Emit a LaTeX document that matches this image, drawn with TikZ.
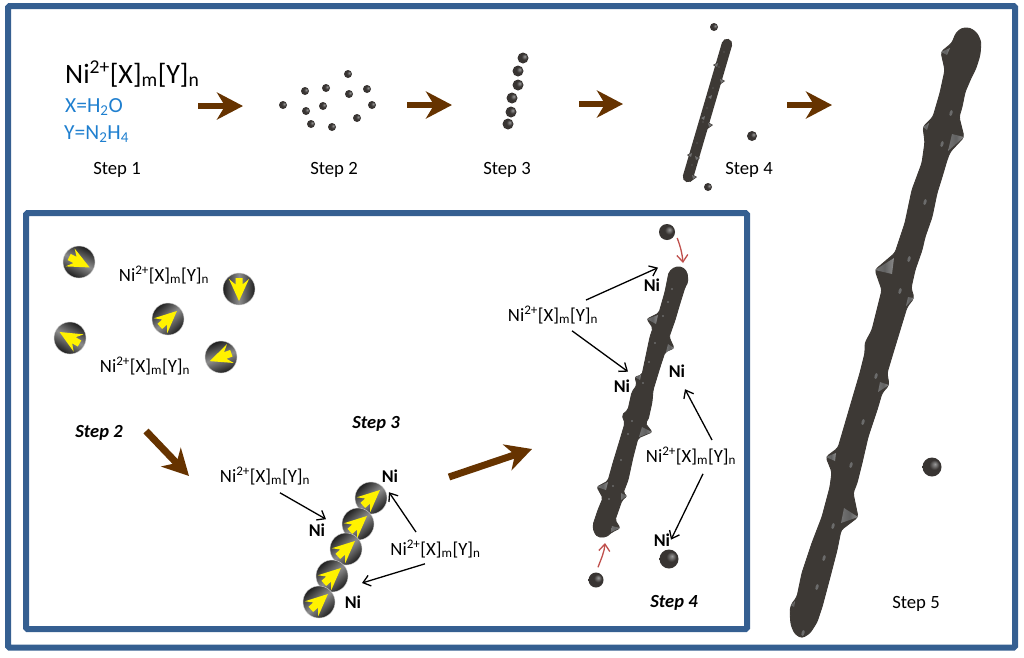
\documentclass[tikz,border=0pt]{standalone}
\usepackage{fontspec}
\setmainfont{Carlito}
\usetikzlibrary{arrows.meta}
\definecolor{framec}{HTML}{355F91}
\definecolor{rodc}{HTML}{3D3935}
\definecolor{brownc}{HTML}{663300}
\definecolor{bluec}{HTML}{1F7FCF}
\definecolor{redc}{HTML}{C0504D}
\definecolor{beadlight}{HTML}{9A9A9A}
\definecolor{beaddark}{HTML}{383432}
\pgfdeclareradialshading{beadshade}{\pgfpoint{8bp}{8bp}}{color(0bp)=(beadlight); color(13bp)=(beaddark); color(50bp)=(beaddark)}
\newcommand{\nimol}{Ni\textsuperscript{2+}[X]\textsubscript{m}[Y]\textsubscript{n}}
\tikzset{
  frame/.style={draw=framec,line width=6pt,rounded corners=1.5pt},
  lab/.style={font=\fontsize{18.7}{20}\selectfont,inner sep=0pt,anchor=base},
  ni/.style={font=\fontsize{18}{20}\selectfont\bfseries,inner sep=0pt,anchor=base},
  stepi/.style={font=\fontsize{18.5}{20}\selectfont\bfseries\itshape,inner sep=0pt,anchor=base},
  bluet/.style={font=\fontsize{21.5}{23}\selectfont,text=bluec,inner sep=0pt,anchor=base west},
  bead/.style={circle,inner sep=0pt,minimum size=#1,shade,shading=beadshade},
  ysphere/.style={circle,inner sep=0pt,minimum size=32pt,draw=gray!35,line width=.4pt,
    top color=black!88,bottom color=black!88,middle color=black!45},
  conn/.style={-{Straight Barb[length=7pt,width=11pt]},line width=1.3pt},
  redconn/.style={-{Straight Barb[length=7pt,width=11pt]},line width=1.3pt,draw=redc},
  bigarrow/.style={-{Stealth[length=26pt,width=27pt,inset=8pt]},line width=6pt,draw=brownc},
  facet/.style={left color=black!55,right color=black!45,middle color=black!62},
  rod/.style={fill=rodc,draw=rodc,line width=.9pt,line join=round,rounded corners=#1},
  pics/yarrow/.style={code={
    \fill[yellow] (12,0) -- (-10,10) -- (-4.5,3.5) -- (-11,3.5) -- (-11,-3.5) -- (-4.5,-3.5) -- (-10,-10) -- cycle;
  }}
}
\begin{document}
\begin{tikzpicture}[x=1pt,y=-1pt]
\useasboundingbox (0,0) rectangle (1024,657);
%frames
\draw[frame] (8,6) rectangle (1015,647.5);
\draw[frame,fill=white] (26,213) rectangle (747,629);

%top row text
\node[font=\fontsize{28}{30}\selectfont,inner sep=0pt,anchor=base west] (mtop) at (65,83) {\nimol};
\node[bluet] (xdef) at (65,112) {X=H\textsubscript{2}O};
\node[bluet] (ydef) at (64,139) {Y=N\textsubscript{2}H\textsubscript{4}};
\node[lab] (st1) at (117,174) {Step 1};
\node[lab] (st2) at (334,174) {Step 2};
\node[lab] (st3) at (507,174) {Step 3};
\node[lab] (st4) at (749,174) {Step 4};
\node[lab] (st5) at (916,608) {Step 5};

%step 2 beads
\foreach \x/\y [count=\i] in {283/105,305/91,326/88,348/74,349/94,367/89,372/105,357/118,332/127,311/124,306/111,323/106}
  \node[bead=8pt] (p\i) at (\x,\y) {};
%step 3 beads
\foreach \x/\y [count=\i] in {523/58,518/71,518/85,512/98,511/112,508/124}
  \node[bead=11pt] (q\i) at (\x,\y) {};
%step 4 beads
\node[bead=8pt] (r1) at (714,27) {};
\node[bead=10pt] (r2) at (752,136) {};
\node[bead=8pt] (r3) at (708,187) {};
%step 5 bead
\node[bead=19pt] (r4) at (932,467) {};

%top row arrows
\coordinate (a1s) at (198,106); \coordinate (a1e) at (243,106);
\coordinate (a2s) at (407,105); \coordinate (a2e) at (452,105);
\coordinate (a3s) at (579,104); \coordinate (a3e) at (623,104);
\coordinate (a4s) at (787,105); \coordinate (a4e) at (832,105);
\draw[bigarrow] (a1s) -- (a1e);
\draw[bigarrow] (a2s) -- (a2e);
\draw[bigarrow] (a3s) -- (a3e);
\draw[bigarrow] (a4s) -- (a4e);

%small rod
\draw[rodc,line width=10.5pt,line cap=round] (727,44) -- (688,177);
\foreach \x/\y in {713/65,707/97,700/118,687/155}
  \fill[rodc] (\x,\y) -- (\x+7,\y-4) -- (\x+7,\y+5) -- cycle;
\foreach \x/\y in {725/81,713/125,700/158,697/177}
  \fill[rodc] (\x,\y) -- (\x-7,\y-4) -- (\x-7,\y+5) -- cycle;
\foreach \x/\y in {713/65,707/97,700/118,687/155}
  \fill[black!55] (\x+1,\y) -- (\x+5,\y-2) -- (\x+4,\y+2) -- cycle;
\foreach \x/\y in {725/81,713/125,700/158,697/177}
  \fill[black!55] (\x-1,\y) -- (\x-5,\y-2) -- (\x-4,\y+2) -- cycle;
\foreach \x/\y in {724/52,719/67,713/88,707/108,703/122,697/143,692/165}
  \fill[black!55] (\x,\y) circle (.7);

%big rod
\fill[rod=3pt] (962,28) -- (970,28) -- (977,33) -- (981,42) -- (980,55) -- (976,68) -- (971,78) -- (965,92) -- (962,107) -- (959,117)
  -- (964,137) -- (950,152) -- (947,160) -- (942,177) -- (937,193) -- (932,217) -- (925,237) -- (922,250)
  -- (915,270) -- (911,288) -- (914,298) -- (907,307) -- (900,330) -- (893,353) -- (887,373) -- (889,385)
  -- (882,393) -- (877,410) -- (868,437) -- (862,463) -- (857,483) -- (853,493) -- (858,517) -- (841,530)
  -- (837,550) -- (830,577) -- (822,607) -- (817,622) -- (810,633) -- (802,638) -- (795,634) -- (791,625) -- (790,612) -- (791,605)
  -- (797,597) -- (802,573) -- (812,543) -- (822,517) -- (830,487) -- (832,472) -- (826,457) -- (838,448)
  -- (850,407) -- (860,373) -- (865,353) -- (865,343) -- (872,330) -- (882,290) -- (875,270) -- (895,253)
  -- (905,223) -- (912,190) -- (922,163) -- (925,142) -- (923,127) -- (933,117) -- (940,93) -- (945,70)
  -- (941,52) -- (952,43) -- (956,33) -- cycle;
\foreach \a/\b/\c/\d/\e/\f in {941/52/950/48/947/55,923/127/929/123/927/130,964/137/952/134/948/151,
    875/270/894/258/892/274,914/298/908/297/906/306,889/385/880/382/878/392,826/457/836/453/835/461,
    858/517/844/508/841/523,791/605/795/601/794/607}
  \path[facet] (\a,\b) -- (\c,\d) -- (\e,\f) -- cycle;
\foreach \x/\y in {951/113,942/144,925/202,909/259,900/291,876/376,863/422,851/465,833/526,824/558,817/587,803/633}
  \fill[black!58,rotate around={-15:(\x,\y)}] (\x,\y) ellipse (1.5 and 3);

%inset rod
\fill[rod=2pt] (675,267) -- (682,267) -- (687,272) -- (688,282) -- (685,287) -- (680,303) -- (675,320) -- (669,337) -- (674,348)
  -- (665,352) -- (660,367) -- (653,390) -- (652,402) -- (648,420) -- (645,423) -- (652,432) -- (638,438)
  -- (633,457) -- (628,480) -- (623,493) -- (627,496) -- (622,500) -- (615,520) -- (620,528) -- (612,532)
  -- (606,537) -- (598,537) -- (594,532) -- (593,525) -- (598,510) -- (603,498) -- (597,487) -- (608,481) -- (613,463)
  -- (620,440) -- (625,423) -- (622,415) -- (628,410) -- (632,392) -- (637,385) -- (635,377) -- (642,375)
  -- (650,337) -- (653,328) -- (647,319) -- (659,313) -- (665,292) -- (669,272) -- cycle;
\foreach \a/\b/\c/\d/\e/\f in {647/319/658/315/656/324,674/348/668/344/666/352,635/377/641/375/640/380,
    652/432/642/427/639/437,597/487/608/482/606/490,620/528/612/526/611/532,627/496/621/493/621/500}
  \path[facet] (\a,\b) -- (\c,\d) -- (\e,\f) -- cycle;
\foreach \x/\y in {672/289,668/302,663/316,655/343,649/362,643/383,632/421,628/434,621/460,613/486,609/499}
  \fill[black!58] (\x,\y) circle (1.1);

%inset beads
\node[bead=16pt] (b1) at (667,232) {};
\node[bead=19pt] (b2) at (669,559) {};
\node[bead=15pt] (b3) at (596,580) {};

%yellow arrow spheres
\foreach \x/\y/\a [count=\i] in {79/262/-27,239/289/-90,168/319/42,70/338/150,221/357/200,
    371/498/42,358/524/42,346/549/42,332/576/42,319/602/42}{
  \node[ysphere,shading angle=\a] (s\i) at (\x,\y) {};
  \pic[rotate=\a] at (\x,\y) {yarrow};
}

%inset labels
\node[lab] (m1) at (164,281) {\nimol};
\node[lab] (m2) at (145,372) {\nimol};
\node[lab] (m3) at (265,482) {\nimol};
\node[lab] (m4) at (435.5,555) {\nimol};
\node[lab] (m5) at (553,321) {\nimol};
\node[lab] (m6) at (691,462) {\nimol};
\node[ni] (n1) at (317,536) {Ni};
\node[ni] (n2) at (353,608) {Ni};
\node[ni] (n3) at (390,482) {Ni};
\node[ni] (n4) at (652,291) {Ni};
\node[ni] (n5) at (622,392) {Ni};
\node[ni] (n6) at (677,377) {Ni};
\node[ni] (n7) at (662,546) {Ni};
\node[stepi] (t2) at (99,437) {Step 2};
\node[stepi] (t3) at (376,428) {Step 3};
\node[stepi] (t4) at (674,607) {Step 4};

%inset thick arrows
\coordinate (a5s) at (146,431); \coordinate (a5e) at (189,476);
\coordinate (a6s) at (449,477); \coordinate (a6e) at (532,449);
\draw[bigarrow,line width=7pt] (a5s) -- (a5e);
\draw[bigarrow,line width=7pt] (a6s) -- (a6e);

%black arrows
\coordinate (c3) at (362,583);
\draw[conn] ([shift={(15,8)}]m3.south) -- ([shift={(9,-4)}]n1.north);
\draw[conn] ([shift={(-19.5,-8)}]m4.north) -- ([shift={(-1,10)}]n3.south);
\draw[conn] ([shift={(-10.5,6)}]m4.south) -- (c3);
\draw[conn] ([shift={(33,-6)}]m5.north) -- ([shift={(6,-10.5)}]n4.north);
\draw[conn] ([shift={(19,7)}]m5.south) -- ([shift={(6,-7.5)}]n5.north);
\draw[conn] ([shift={(21,-7)}]m6.north) -- ([shift={(8,12)}]n6.south);
\draw[conn] ([shift={(12,9)}]m6.south) -- ([shift={(9,6.5)}]n7.north);

%red arrows
\coordinate (rt) at (683,263);
\coordinate (rb) at (605,543);
\draw[redconn] ([shift={(2,6)}]b1.east) to[out=-70,in=95] (rt);
\draw[redconn] ([shift={(2,-5)}]b3.north) to[out=70,in=-95] (rb);
\end{tikzpicture}
\end{document}
